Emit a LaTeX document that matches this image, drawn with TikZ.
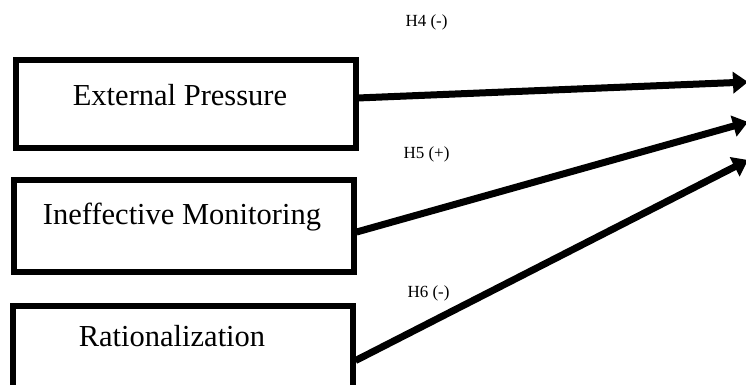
\documentclass[tikz,border=0pt]{standalone}
\usepackage{fontspec}
\setmainfont{Liberation Serif}
\usetikzlibrary{arrows.meta}

\begin{document}
\begin{tikzpicture}[x=1pt,y=-1pt,
    varbox/.style={draw, line width=6pt, inner sep=0pt, minimum width=340pt},
    vartext/.style={anchor=base, font=\fontsize{30.5}{36}\selectfont},
    hyplabel/.style={anchor=base west, font=\fontsize{17}{20}\selectfont},
    hyparrow/.style={line width=7pt, -{Triangle[length=15pt,width=21pt]}}]
    \useasboundingbox (0,0) rectangle (746,385);
    % External Pressure
    \node[varbox, minimum height=88pt] (ep) at (185.5,104) {};
    \node[vartext] (eptext) at (180,106) {External Pressure};
    % Ineffective Monitoring
    \node[varbox, minimum height=92pt] (im) at (183.5,226) {};
    \node[vartext] (imtext) at (182,224) {Ineffective Monitoring};
    % Rationalization
    \node[varbox, minimum height=91pt] (ra) at (182.5,351.5) {};
    \node[vartext] (ratext) at (172,346) {Rationalization};
    % Frecce verso la variabile dipendente
    \coordinate (h4end) at (748,82);
    \coordinate (h5end) at (748,122);
    \coordinate (h6end) at (748,160);
    \draw[hyparrow] (ep.2) -- (h4end);
    \draw[hyparrow] (im.-2) -- (h5end);
    \draw[hyparrow] (ra.-3.5) -- (h6end);
    % Ipotesi
    \node[hyplabel] (h4) at (402,27) {H4 (-)};
    \node[hyplabel] (h5) at (400,158) {H5 (+)};
    \node[hyplabel] (h6) at (404,297) {H6 (-)};
\end{tikzpicture}
\end{document}
